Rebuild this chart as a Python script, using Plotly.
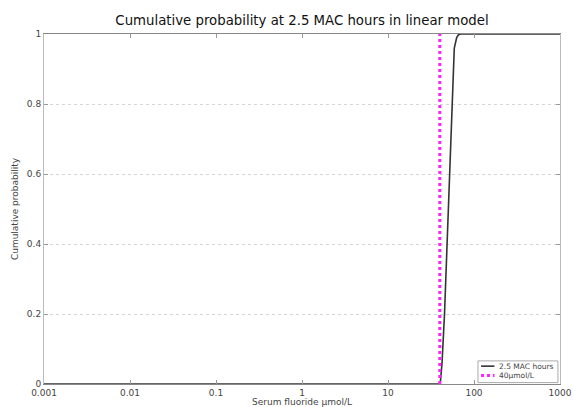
import plotly.graph_objects as go

# data
fluoride = [0.001, 38.0, 40.0, 40.8, 42.5, 45.4, 46.9, 48.9, 51.9, 53.5, 55.2, 57.0, 59.0, 62.9, 66.0, 70.0, 1000.0]
cum_prob = [0.0, 0.0, 0.0, 0.01, 0.06, 0.2, 0.3, 0.4, 0.6, 0.7, 0.8, 0.9, 0.96, 0.99, 0.998, 1.0, 1.0]
threshold_x = [40, 40]
threshold_y = [0, 1]
x_ticks = [0.001, 0.01, 0.1, 1, 10, 100, 1000]
x_tick_labels = ["0.001", "0.01", "0.1", "1", "10", "100", "1000"]
y_ticks = [0, 0.2, 0.4, 0.6, 0.8, 1]
y_tick_labels = ["0", "0.2", "0.4", "0.6", "0.8", "1"]
series_names = ["2.5 MAC hours", "40µmol/L"]
series_colors = ["#333333", "#ff22ff"]

fig = go.Figure()
fig.add_trace(go.Scatter(x=fluoride, y=cum_prob, mode="lines", name=series_names[0],
                         line=dict(color=series_colors[0], width=1.6), showlegend=False))
fig.add_trace(go.Scatter(x=threshold_x, y=threshold_y, mode="lines", name=series_names[1],
                         line=dict(color=series_colors[1], width=3, dash="dot"), showlegend=False))

font = "DejaVu Sans, sans-serif"

# compact legend drawn in paper coordinates (bottom-right of the plot area)
fig.add_shape(type="rect", xref="paper", yref="paper", x0=0.841, x1=0.996, y0=0.004, y1=0.066,
              line=dict(color="#aaaaaa", width=1), fillcolor="white", layer="above")
legend_rows = [(0.051, "solid", 1.6), (0.024, "dot", 3)]
for (ly, dash, w), name, col in zip(legend_rows, series_names, series_colors):
    fig.add_shape(type="line", xref="paper", yref="paper", x0=0.847, x1=0.873, y0=ly, y1=ly,
                  line=dict(color=col, width=w, dash=dash), layer="above")
    fig.add_annotation(xref="paper", yref="paper", x=0.877, y=ly, text=name, showarrow=False,
                       xanchor="left", yanchor="middle",
                       font=dict(family=font, size=7.5, color="#444444"))

fig.update_layout(
    width=574, height=407,
    margin=dict(l=44, r=14, t=34, b=23),
    paper_bgcolor="white", plot_bgcolor="white",
    title=dict(text="Cumulative probability at 2.5 MAC hours in linear model",
               xref="paper", x=0.5, xanchor="center",
               yref="container", y=0.951, yanchor="middle",
               font=dict(family=font, size=13.3, color="#111111")),
    font=dict(family=font, size=9, color="#444444"),
    showlegend=False,
)
fig.update_xaxes(
    type="log", range=[-3, 3], automargin=False,
    tickvals=x_ticks, ticktext=x_tick_labels,
    ticks="inside", ticklen=4, tickcolor="#999999", mirror="ticks",
    showline=True, linecolor="#888888", linewidth=1,
    showgrid=False, zeroline=False,
    title=dict(text="Serum fluoride µmol/L", standoff=2, font=dict(family=font, size=9, color="#444444")),
    tickfont=dict(family=font, size=9, color="#444444"),
)
fig.update_yaxes(
    range=[0, 1], automargin=False,
    tickvals=y_ticks, ticktext=y_tick_labels,
    ticks="inside", ticklen=4, tickcolor="#999999", mirror="ticks",
    showline=True, linecolor="#bbbbbb", linewidth=1,
    showgrid=True, gridcolor="#d5d5d5", griddash="dot", gridwidth=1,
    zeroline=False,
    title=dict(text="Cumulative probability", standoff=6, font=dict(family=font, size=9, color="#444444")),
    tickfont=dict(family=font, size=9, color="#444444"),
)

fig.write_html("out.html")
